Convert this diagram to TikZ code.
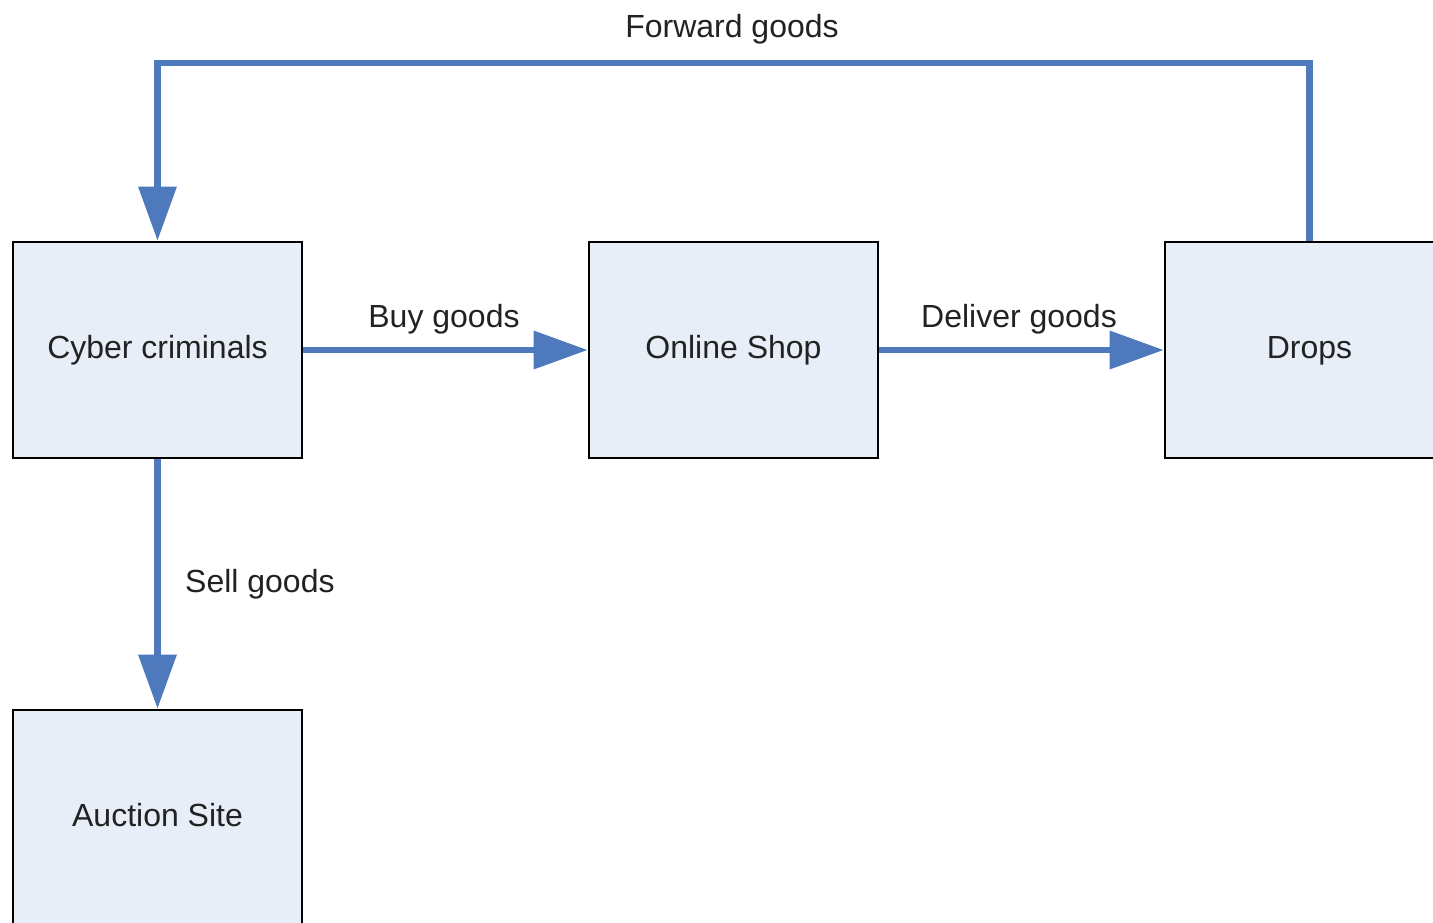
\documentclass[tikz,border=0pt]{standalone}
\usepackage{fontspec}
\setmainfont{Liberation Sans}
\usetikzlibrary{arrows.meta}
\definecolor{flowblue}{HTML}{4F79BD}
\definecolor{boxfill}{HTML}{E8EEF8}
\definecolor{inktext}{HTML}{222222}
\tikzset{
  stage/.style={draw=black, line width=2.6pt, fill=boxfill, rectangle,
    minimum width=289pt, minimum height=216pt, inner sep=0pt,
    text height=23pt, text depth=6pt, text=inktext,
    font=\fontsize{32}{38}\selectfont},
  flow/.style={draw=flowblue, line width=6.5pt, line join=miter,
    -{Triangle[length=54pt,width=37pt]}},
  flowplain/.style={draw=flowblue, line width=6.5pt, line join=miter},
  tag/.style={anchor=base, inner sep=0pt, text=inktext,
    font=\fontsize{32}{38}\selectfont}
}
\begin{document}
\begin{tikzpicture}[x=1pt, y=-1pt]
  \useasboundingbox (0,0) rectangle (1433,922);
  \begin{scope}
    \clip (0,0) rectangle (1433,922);
    % the four parties
    \node[stage] (cyber)   at (157.5,350) {Cyber criminals};
    \node[stage] (shop)    at (733.5,350) {Online Shop};
    \node[stage] (drops)   at (1309.5,350) {Drops};
    \node[stage] (auction) at (157.5,818) {Auction Site};

    % goods flow
    \draw[flow] (cyber.east) -- (shop.west);
    \draw[flow] (shop.east) -- (drops.west);
    \draw[flow] (cyber.south) -- (auction.north);
    \coordinate (top) at (733.5,63);
    \draw[flow] (drops.north) |- (top) -| (cyber.north);

    % labels
    \node[tag] (lbuy)     at (444,327) {Buy goods};
    \node[tag] (ldeliver) at (1019,327) {Deliver goods};
    \node[tag] (lforward) at (732,37) {Forward goods};
    \node[tag, anchor=base west] (lsell) at (185,592) {Sell goods};
  \end{scope}
\end{tikzpicture}
\end{document}
